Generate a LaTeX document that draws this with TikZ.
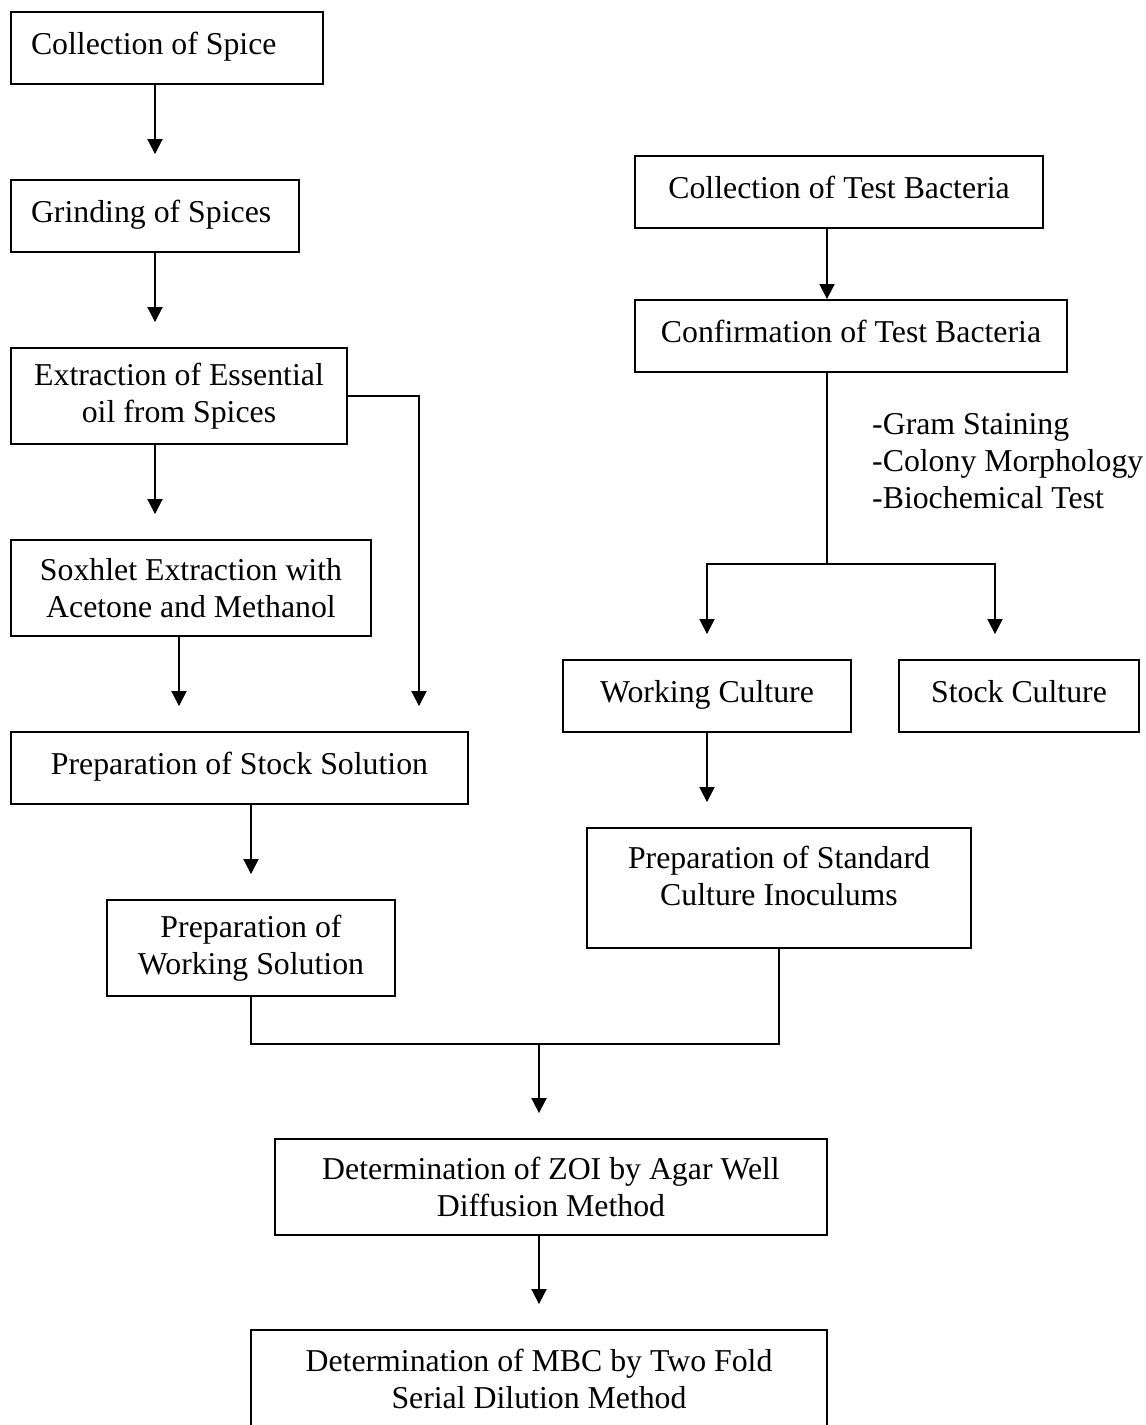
\documentclass[tikz,border=0pt]{standalone}
\usepackage{fontspec}
\setmainfont{Liberation Serif}
\usetikzlibrary{arrows.meta,calc}
\newcommand{\dstrut}[1]{\rule[-#1]{0pt}{#1}}
\newcommand{\onestrut}{\rule[-10pt]{0pt}{32pt}}
\begin{document}
\begin{tikzpicture}[x=1pt,y=-1pt,
  every node/.style={font=\fontsize{31.8}{37}\selectfont, text=black},
  box/.style={draw, line width=1.9pt, inner sep=0pt, align=center},
  conn/.style={line width=1.9pt},
  arr/.style={conn, -{Triangle[width=15pt,length=15pt]}, shorten >=25pt},
]
\useasboundingbox (0,0) rectangle (1146,1425);
\fill[white] (0,0) rectangle (1146,1425);

% left column
\node[box, minimum width=312pt, minimum height=72pt] (b1) at (167,48) {\makebox[272pt][l]{Collection of Spice\onestrut}};
\node[box, minimum width=288pt, minimum height=72pt] (b2) at (155,216) {\makebox[248pt][l]{Grinding of Spices\onestrut}};
\node[box, minimum width=336pt, minimum height=96pt] (b3) at (179,396) {Extraction of Essential\\ oil from Spices};
\node[box, minimum width=360pt, minimum height=96pt] (b4) at (191,588) {Soxhlet Extraction with\\ Acetone and Methanol};
\node[box, minimum width=457pt, minimum height=72pt] (b5) at (239.5,768) {Preparation of Stock Solution\onestrut};
\node[box, minimum width=288pt, minimum height=96pt] (b6) at (251,948) {Preparation of\\ Working Solution};

% right column
\node[box, minimum width=408pt, minimum height=72pt] (b7) at (839,192) {Collection of Test Bacteria\onestrut};
\node[box, minimum width=432pt, minimum height=72pt] (b8) at (851,336) {Confirmation of Test Bacteria\onestrut};
\node[box, minimum width=288pt, minimum height=72pt] (wc) at (707,696) {Working Culture\onestrut};
\node[box, minimum width=240pt, minimum height=72pt] (sc) at (1019,696) {Stock Culture\onestrut};
\node[box, minimum width=384pt, minimum height=120pt] (std) at (779,888) {Preparation of Standard\\ Culture Inoculums\dstrut{25pt}};

% bottom
\node[box, minimum width=552pt, minimum height=96pt] (zoi) at (551,1187) {Determination of ZOI by Agar Well\\ Diffusion Method};
\node[box, minimum width=576pt, minimum height=98pt] (mbc) at (539,1379) {Determination of MBC by Two Fold\\ Serial Dilution Method};

% test list
\node[align=left, anchor=north west, inner sep=0pt] (tests) at (872,413) {-Gram Staining\\-Colony Morphology\\-Biochemical Test};

% coordinates
\coordinate (r3) at (419,396);
\coordinate (cx) at (827,0);
\coordinate (br) at (827,564);
\coordinate (sx) at (995,564);
\coordinate (m) at (539,1044);

% left connectors
\draw[arr] (b1.south -| b2.north) -- (b2.north);
\draw[arr] (b2.south) -- (b3.north -| b2.south);
\draw[arr] (b3.south -| b2.south) -- (b4.north -| b2.south);
\draw[arr] (b4.south -| b3.south) -- (b5.north -| b3.south);
\draw[arr] (b3.east) -- (r3) -- (r3 |- b5.north);
\draw[arr] (b5.south -| b6.north) -- (b6.north);

% right connectors
\draw[arr, shorten >=0pt] (b7.south -| cx) -- (b8.north -| cx);
\draw[conn] (b8.south -| cx) -- (br);
\draw[arr] (br) -- (br -| wc.north) -- (wc.north);
\draw[arr] (br) -- (sx) -- (sx |- sc.north);
\draw[arr] (wc.south) -- (std.north -| wc.south);

% merge
\draw[conn] (b6.south) -- (b6.south |- m) -- (std.south |- m) -- (std.south);
\draw[arr] (m) -- (zoi.north -| m);
\draw[arr] (zoi.south -| mbc.north) -- (mbc.north);
\end{tikzpicture}
\end{document}
